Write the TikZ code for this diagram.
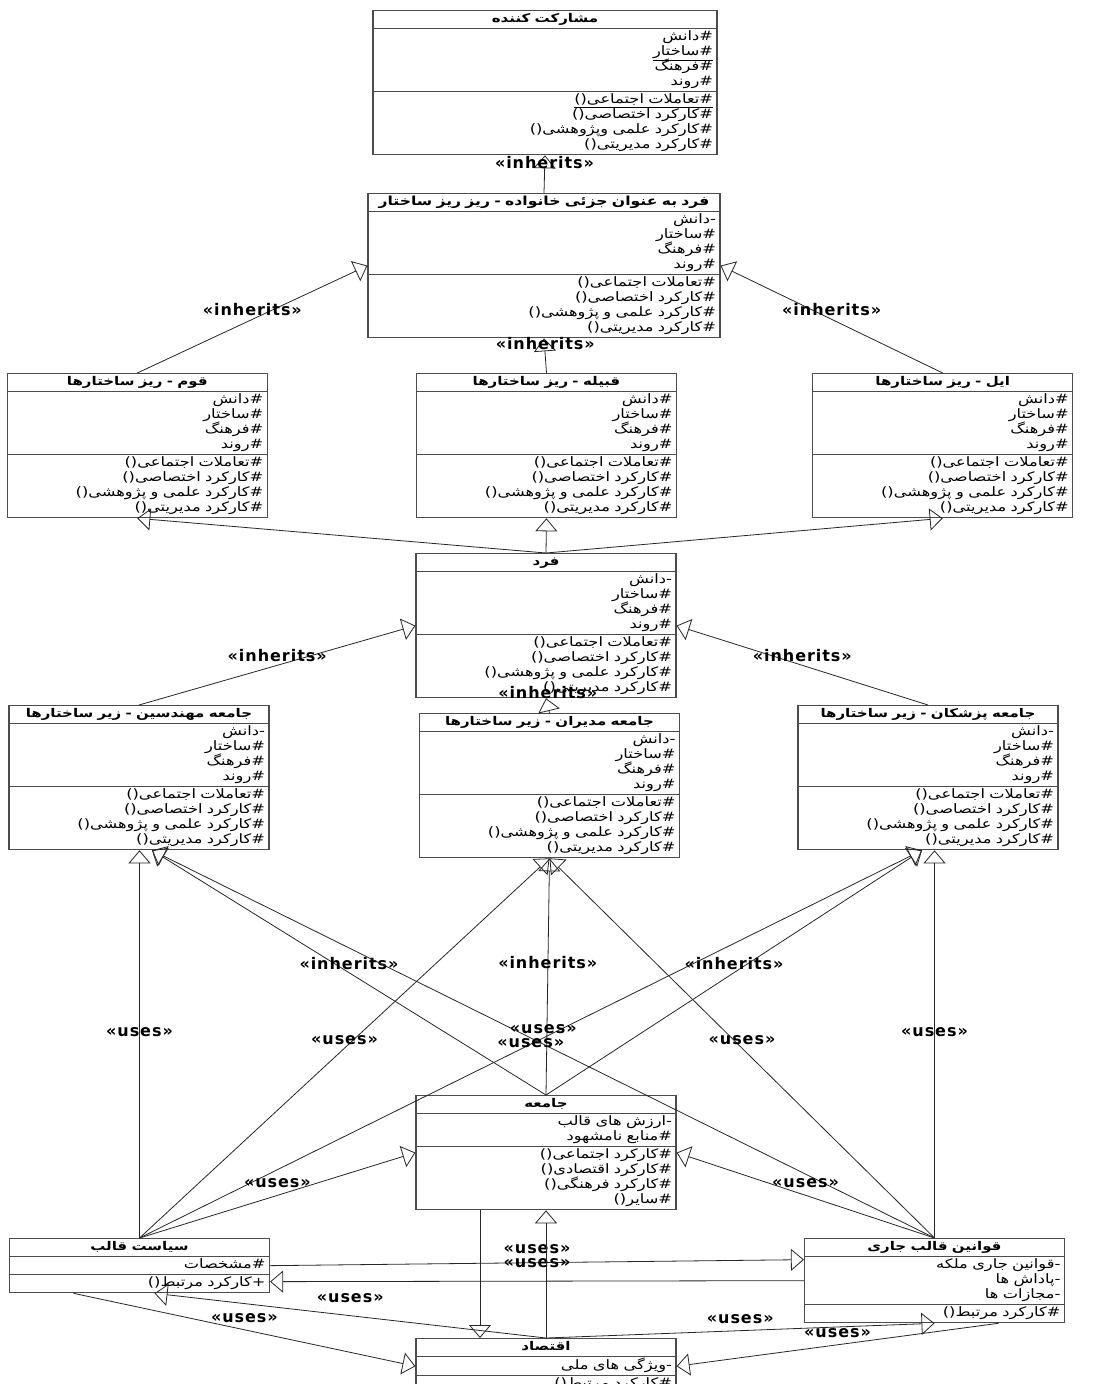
\documentclass[tikz,border=0pt]{standalone}
\usepackage{fontspec}
\setmainfont{DejaVu Sans}
\newfontfamily\arabicfont[Script=Arabic, FakeStretch=1.25]{DejaVu Sans}
\newfontfamily\stereofont[LetterSpace=6.0]{DejaVu Sans}
\TeXXeTstate=1
\usetikzlibrary{shapes.multipart, arrows.meta, positioning}

% one right-to-left line inside a class box
\newcommand{\rl}[1]{\lineskiplimit=-20pt\strut\beginR#1\endR}
\newcommand{\rlu}[1]{\lineskiplimit=-20pt\strut\underline{\beginR#1\endR}}
\newcommand{\ctitle}[2][12]{\makebox[\linewidth]{\bfseries\fontsize{#1}{14.5}\selectfont\rl{#2}}}
\newcommand{\attrs}[1]{\rl{#1دانش}\\\rl{\#ساختار}\\\rl{\#فرهنگ}\\\rl{\#روند}}
\newcommand{\ops}{\rl{\#تعاملات اجتماعی()}\\\rl{\#کارکرد اختصاصی()}\\\rl{\#کارکرد علمی و پژوهشی()}\\\rl{\#کارکرد مدیریتی()}}

\tikzset{
    umlclass/.style={
        rectangle split, rectangle split parts=3, draw=black!70, line width=1.2pt,
        fill=white, text width=#1, align=right, inner xsep=4pt, inner ysep=1pt,
        font=\arabicfont\fontsize{13}{15}\selectfont
    },
    umlclass/.default=252pt,
    connector/.style={draw=black!85, line width=0.8pt, -{Triangle[open, length=13pt, width=22pt]}},
    stereo/.style={font=\stereofont\bfseries\fontsize{16}{16}\selectfont, inner sep=1pt}
}

\begin{document}
\begin{tikzpicture}[x=1pt, y=-1pt]
\useasboundingbox (0,0) rectangle (1107,1384);
\clip (0,0) rectangle (1107,1384);
\fill[white] (0,0) rectangle (1107,1384);

% Upper hierarchy
\node[umlclass=336pt, anchor=north] (moshar) at (545,10) {\ctitle{مشارکت کننده}
    \nodepart{two}\rl{\#دانش}\\\rlu{\#ساختار}\\\rl{\#فرهنگ}\\\rl{\#روند}
    \nodepart{three}\rlu{\#تعاملات اجتماعی()}\\\rl{\#کارکرد اختصاصی()}\\\rl{\#کارکرد علمی وپژوهشی()}\\\rl{\#کارکرد مدیریتی()}};
\node[umlclass=344pt, anchor=north] (fardjoz) at (544,193) {\ctitle[12.5]{فرد به عنوان جزئی خانواده - ریز ریز ساختار}
    \nodepart{two}\attrs{-}\nodepart{three}\ops};

% Sub-structures
\node[umlclass, anchor=north] (qabileh) at (546.5,373) {\ctitle{قبیله - ریز ساختارها}
    \nodepart{two}\attrs{\#}\nodepart{three}\ops};
\node[umlclass, left=148pt of qabileh] (qawm) {\ctitle{قوم - ریز ساختارها}
    \nodepart{two}\attrs{\#}\nodepart{three}\ops};
\node[umlclass, right=135pt of qabileh] (il) {\ctitle{ایل - ریز ساختارها}
    \nodepart{two}\attrs{\#}\nodepart{three}\ops};

% Individual
\node[umlclass, anchor=north] (fard) at (546,553) {\ctitle{فرد}
    \nodepart{two}\attrs{-}\nodepart{three}\ops};

% Professional communities
\node[umlclass, anchor=north] (modiran) at (549.5,713) {\ctitle{جامعه مدیران - زیر ساختارها}
    \nodepart{two}\attrs{-}\nodepart{three}\ops};
\node[umlclass, anchor=north] (mohandes) at (139,705) {\ctitle{جامعه مهندسین - زیر ساختارها}
    \nodepart{two}\attrs{-}\nodepart{three}\ops};
\node[umlclass, anchor=north] (pzshk) at (928,705) {\ctitle{جامعه پزشکان - زیر ساختارها}
    \nodepart{two}\attrs{-}\nodepart{three}\ops};

% Society and its templates
\node[umlclass, anchor=north] (jameh) at (546,1095) {\ctitle{جامعه}
    \nodepart{two}\rl{-ارزش های قالب}\\\rl{\#منابع نامشهود}
    \nodepart{three}\rl{\#کارکرد اجتماعی()}\\\rl{\#کارکرد اقتصادی()}\\\rl{\#کارکرد فرهنگی()}\\\rl{\#سایر()}};
\node[umlclass, anchor=north] (siasat) at (139.5,1238) {\ctitle{سیاست قالب}
    \nodepart{two}\rl{\#مشخصات}\nodepart{three}\rl{+کارکرد مرتبط()}};
\node[umlclass, anchor=north] (qavanin) at (934.5,1238) {\ctitle{قوانین قالب جاری}
    \nodepart{two}\rl{-قوانین جاری ملکه}\\\rl{-پاداش ها}\\\rl{-مجازات ها}
    \nodepart{three}\rl{\#کارکرد مرتبط()}};
\node[umlclass, anchor=north] (eghtesad) at (546,1338) {\ctitle{اقتصاد}
    \nodepart{two}\rl{-ویژگی های ملی}\nodepart{three}\rl{\#کارکرد مرتبط()}};

\coordinate (mohandesin) at ([xshift=13pt]mohandes.south);
\coordinate (pzshkin) at ([xshift=-6pt]pzshk.south);

% Inheritance, upper part
\draw[connector] (fardjoz.north) -- node[stereo, yshift=12pt] {«inherits»} (moshar.south);
\draw[connector] (qawm.north) -- node[stereo, above=2pt] {«inherits»} (fardjoz.west);
\draw[connector] (il.north) -- node[stereo, above=2pt] {«inherits»} (fardjoz.east);
\draw[connector] (qabileh.north) -- node[stereo, yshift=12pt] {«inherits»} (fardjoz.south);
\draw[connector] (fard.north) -- (qawm.south);
\draw[connector] (fard.north) -- (qabileh.south);
\draw[connector] (fard.north) -- (il.south);
\draw[connector] (mohandes.north) -- node[stereo, above=2pt] {«inherits»} (fard.west);
\draw[connector] (pzshk.north) -- node[stereo, above=2pt] {«inherits»} (fard.east);
\draw[connector] (modiran.north) -- node[stereo, yshift=13pt] {«inherits»} (fard.south);

% Society to communities
\draw[connector] (jameh.north) -- node[stereo, above=2pt] {«inherits»} (mohandesin);
\draw[connector] (jameh.north) -- node[stereo, yshift=14pt] {«inherits»} (modiran.south);
\draw[connector] (jameh.north) -- node[stereo, above=2pt] {«inherits»} (pzshkin);

% Template policy
\draw[connector] (siasat.north) -- node[stereo, yshift=12pt] {«uses»} (siasat.north |- mohandes.south);
\draw[connector] (siasat.north) -- node[stereo, above=2pt] {«uses»} (modiran.south);
\draw[connector] (siasat.north) -- node[stereo, yshift=1pt] {«uses»} (pzshkin);
\draw[connector] (siasat.north) -- node[stereo, above=6pt] {«uses»} (jameh.west);

% Current template laws
\draw[connector] (qavanin.north) -- node[stereo, yshift=12pt] {«uses»} (qavanin.north |- pzshk.south);
\draw[connector] (qavanin.north) -- node[stereo, yshift=15pt] {«uses»} (mohandesin);
\draw[connector] (qavanin.north) -- node[stereo, above=2pt] {«uses»} (modiran.south);
\draw[connector] (qavanin.north) -- node[stereo, above=6pt] {«uses»} (jameh.east);

% Bottom row
\draw[connector] (siasat.east) -- node[stereo, above=8pt] {«uses»} ([yshift=21pt]qavanin.west);
\draw[connector] (qavanin.west) -- node[stereo, above=12pt] {«uses»} ([yshift=-16pt]siasat.east);
\draw[connector] ([xshift=-66pt]jameh.south) -- ([xshift=-66pt]jameh.south |- eghtesad.north);
\draw[connector] (eghtesad.north) -- (jameh.south);
\draw[connector] (eghtesad.north) -- node[stereo, above=12pt] {«uses»} ([xshift=15pt]siasat.south);
\draw[connector] (eghtesad.north) -- node[stereo, above=6pt] {«uses»} (qavanin.south);
\draw[connector] ([xshift=-66pt]siasat.south) -- node[stereo, above=6pt] {«uses»} (eghtesad.west);
\draw[connector] ([xshift=64pt]qavanin.south) -- node[stereo, above=6pt] {«uses»} (eghtesad.east);

\end{tikzpicture}
\end{document}
